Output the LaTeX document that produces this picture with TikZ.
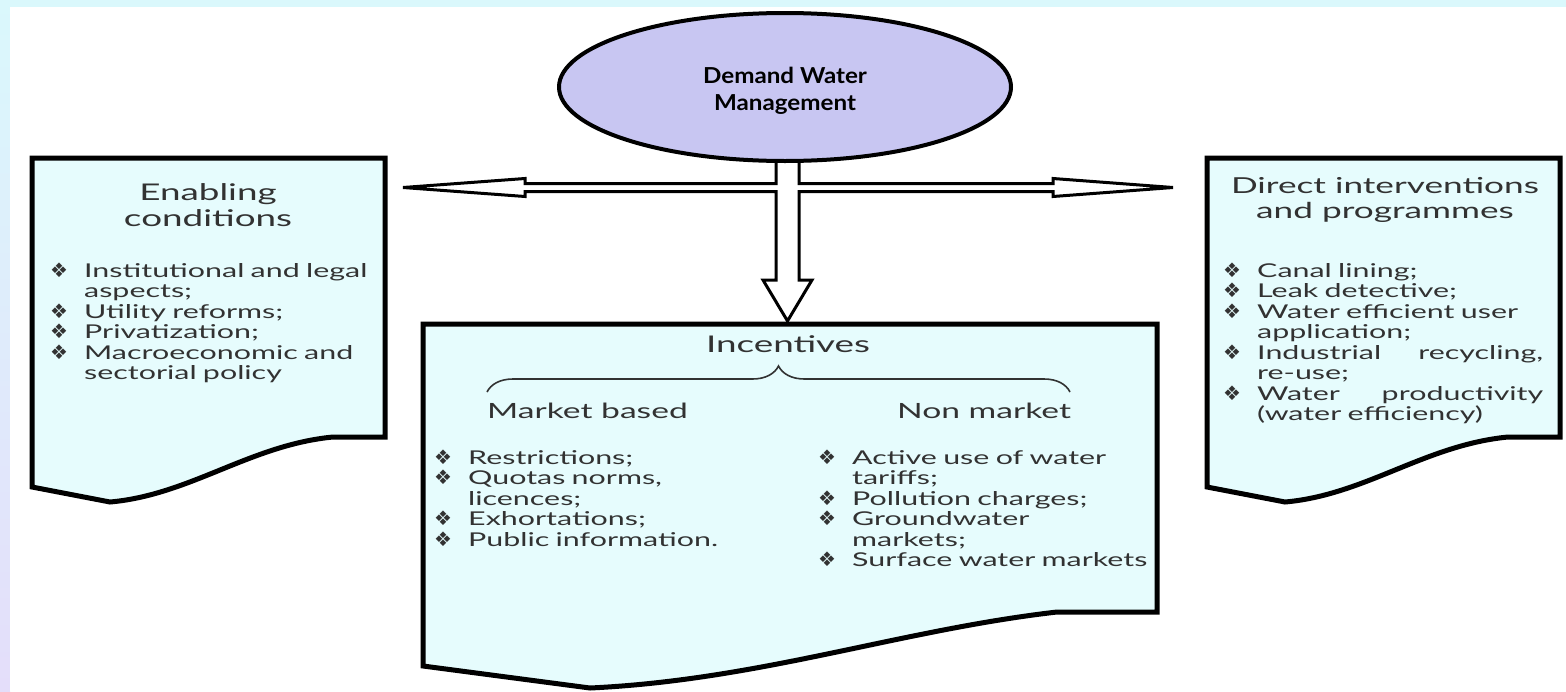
\documentclass[tikz,border=0pt]{standalone}
\usepackage{fontspec}
\setmainfont{Lato}[FakeStretch=1.6]
\newfontfamily\ellipsefont{Lato}[FakeStretch=1.1]
\newfontfamily\bulletfont{DejaVu Sans}
\usepackage{tikz}
\usetikzlibrary{shapes.geometric, decorations.pathreplacing, positioning}
\definecolor{colorEllipse}{RGB}{200,198,242}
\definecolor{colorBox}{RGB}{230,252,253}
\definecolor{colorText}{RGB}{50,50,50}
\definecolor{colorEdgeTop}{RGB}{218,248,252}
\definecolor{colorEdgeBottom}{RGB}{228,222,250}
\setlength{\parindent}{0pt}
\newcommand{\bul}{\makebox[34pt][l]{\smash{\bulletfont\fontsize{20}{20}\selectfont ❖}}}
\newcommand{\ind}{\makebox[34pt]{}}

\begin{document}
\begin{tikzpicture}[x=1pt, y=-1pt,
  docbox/.style={draw=black, line width=5pt, fill=colorBox},
  hollow/.style={draw=black, line width=3pt, fill=white},
  title/.style={font=\fontsize{23}{26}\selectfont, text=colorText, align=center, inner sep=0pt},
  subtitle/.style={font=\fontsize{21}{24}\selectfont, text=colorText, inner sep=0pt},
  items/.style={font=\fontsize{19}{20.5}\selectfont, text=colorText, align=left, text width=320pt, inner sep=0pt, anchor=north west}]

% background
\fill[colorEdgeTop] (0,0) rectangle (1566,691);
\shade[top color=colorEdgeTop, bottom color=colorEdgeBottom] (0,0) rectangle (10,691);
\fill[white] (10,7) rectangle (1566,691);
\useasboundingbox (0,0) rectangle (1566,691);

% boxes
\draw[docbox] (32,158) -- (385,158) -- (385,437) -- (333,437) .. controls (250,445) and (190,495) .. (110,502) -- (32,487) -- cycle;
\draw[docbox] (1207,158) -- (1560,158) -- (1560,437) -- (1508,437) .. controls (1425,445) and (1365,495) .. (1285,502) -- (1207,487) -- cycle;
\draw[docbox] (423,324) -- (1157,324) -- (1157,612) -- (1057,612) .. controls (900,630) and (760,680) .. (590,688) -- (423,666) -- cycle;

% arrows
\coordinate (ltip) at (403,187.5);
\coordinate (rtip) at (1173,187.5);
\coordinate (dtip) at (787.5,321);
\draw[hollow] (776,150) -- (776,183.5) -- (525,183.5) -- (525,178.5) -- (ltip) -- (525,196.5) -- (525,191.5) -- (776,191.5) -- (776,280) -- (763,280) -- (dtip) -- (812,280) -- (799,280) -- (799,191.5) -- (1053,191.5) -- (1053,196.5) -- (rtip) -- (1053,178.5) -- (1053,183.5) -- (799,183.5) -- (799,150);

% ellipse
\node[ellipse, draw=black, line width=4pt, fill=colorEllipse, minimum width=452pt, minimum height=148pt, inner sep=0pt, align=center, font=\ellipsefont\bfseries\fontsize{22}{27}\selectfont] (dwm) at (785,87) {\rule{0pt}{24pt}Demand Water\\Management};

% texts
\node[title] (enab) at (208,205) {Enabling\\conditions};
\node[items] (enabl) at (50,263) {\bul Institutional and legal\\\ind aspects;\\\bul Utility reforms;\\\bul Privatization;\\\bul Macroeconomic and\\\ind sectorial policy};

\node[title, font=\fontsize{22}{25}\selectfont] (dirt) at (1385,200) {Direct interventions\\and programmes};
\node[items] (dirl) at (1223,263) {\bul Canal lining;\\\bul Leak detective;\\\bul Water efficient user\\\ind application;\\\bul Industrial\hfill recycling,\\\ind re-use;\\\bul Water\hfill productivity\\\ind (water efficiency)};

\node[title] (inc) at (788,344) {Incentives};
\draw[decorate, decoration={brace, amplitude=26pt}, line width=1.6pt, draw=colorText] (487,392) -- (1070,392);
\node[subtitle, anchor=base west] (mkt) at (487,418) {Market based};
\node[subtitle, anchor=base west] (nmkt) at (897,418) {Non market};
\node[items] (mktl) at (434,450) {\bul Restrictions;\\\bul Quotas norms,\\\ind licences;\\\bul Exhortations;\\\bul Public information.};
\node[items, text width=340pt] (nmktl) at (818,450) {\bul Active use of water\\\ind tariffs;\\\bul Pollution charges;\\\bul Groundwater\\\ind markets;\\\bul Surface water markets};
\end{tikzpicture}
\end{document}
